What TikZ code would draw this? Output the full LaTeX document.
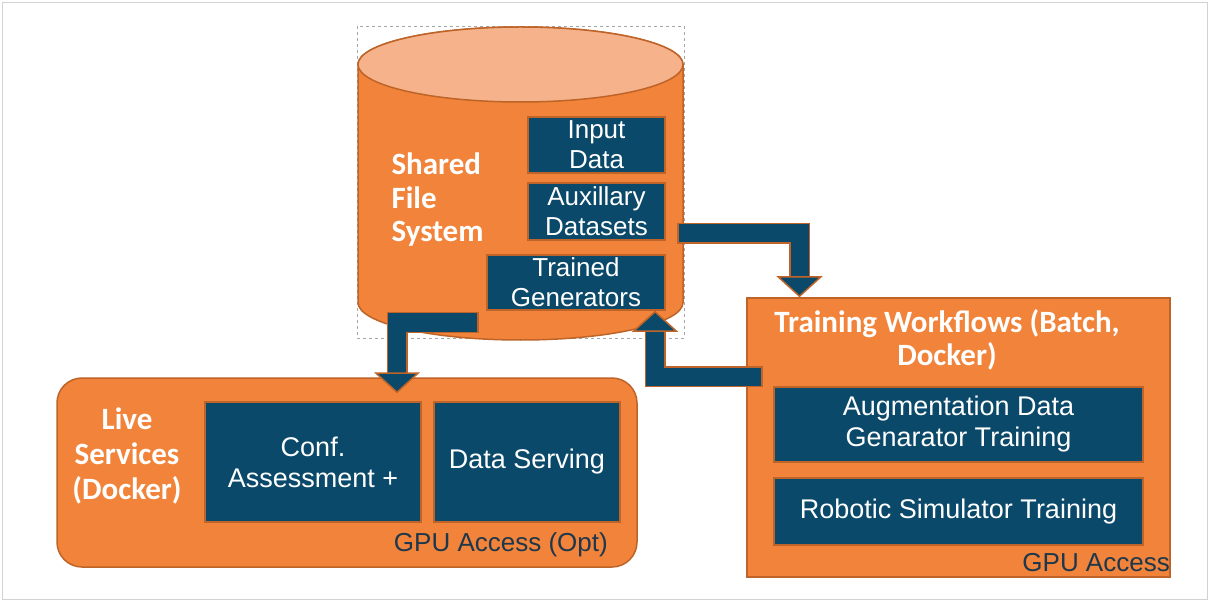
\documentclass[tikz,border=0pt]{standalone}
\usepackage{fontspec}
\setmainfont{Liberation Sans}
\newfontfamily\carlito{Carlito}
\usepackage{tikz}
\usetikzlibrary{arrows.meta}

\definecolor{fsorange}{RGB}{241,132,58}
\definecolor{fstop}{RGB}{246,178,138}
\definecolor{boxedge}{RGB}{190,100,40}
\definecolor{navy}{RGB}{10,73,106}
\definecolor{gputext}{RGB}{30,55,75}

\begin{document}
\begin{tikzpicture}[x=1pt, y=-1pt,
      darkbox/.style={draw=boxedge, line width=1.5pt, fill=navy, text=white, align=center, inner sep=0pt, font=\fontsize{27}{31}\selectfont},
      smallbox/.style={darkbox, font=\fontsize{26}{30}\selectfont},
      panel/.style={draw=boxedge, line width=1.5pt, fill=fsorange, inner sep=0pt},
      head/.style={text=white, align=center, font=\carlito\bfseries\fontsize{31}{34}\selectfont},
      gpu/.style={text=gputext, inner sep=0pt, font=\fontsize{26}{30}\selectfont},
      flow/.style={draw=navy, line width=18pt,
        -{Triangle[width=46pt, length=21pt, line width=1.5pt, color=boxedge, fill=navy]},
        preaction={draw=boxedge, arrows=-, line width=21pt, shorten >=20pt, shorten <=-1.5pt}}
    ]
    \useasboundingbox (0,0) rectangle (1209,601);
    \draw[gray!35] (2,2) rectangle (1207,599);

    % live services and training panels
    \node[panel, rounded corners=25pt, minimum width=580pt, minimum height=189pt] (live) at (347,472.5) {};
    \node[panel, minimum width=423pt, minimum height=279pt] (train) at (958.5,437.5) {};

    % shared file system (cylinder)
    \draw[gray!70, dashed] (357,26) rectangle (684,338);
    \draw[panel] (358,64.5) -- (358,302.5)
      arc[start angle=180, end angle=360, x radius=162.5pt, y radius=37.5pt]
      -- (683,64.5)
      arc[start angle=0, end angle=180, x radius=162.5pt, y radius=37.5pt] -- cycle;
    \draw[draw=boxedge, line width=1.5pt, fill=fstop] (520.5,64.5) ellipse[x radius=162.5pt, y radius=37.5pt];
    \node[head, align=left, anchor=west, font=\carlito\bfseries\fontsize{31}{33.5}\selectfont] (fs) at (388,200) {Shared\\File\\System};
    \node[smallbox, minimum width=137pt, minimum height=56pt] (input) at (596.5,145) {Input\\Data};
    \node[smallbox, minimum width=137pt, minimum height=57pt] (aux) at (596.5,211.5) {Auxillary\\Datasets};
    \node[smallbox, minimum width=178pt, minimum height=55pt] (gen) at (576,282.5) {Trained\\Generators};

    % live services content
    \node[head, font=\carlito\bfseries\fontsize{31}{35}\selectfont] (livelbl) at (127,456) {Live\\Services\\(Docker)};
    \node[darkbox, minimum width=216pt, minimum height=120pt] (conf) at (313,462) {Conf.\\Assessment +};
    \node[darkbox, minimum width=186pt, minimum height=120pt] (serve) at (527,462) {Data Serving};
    \node[gpu, anchor=east] (gpuopt) at (608,545) {GPU Access (Opt)};

    % training content
    \node[head, font=\carlito\bfseries\fontsize{31}{33}\selectfont] (trainlbl) at (947,340) {Training Workflows (Batch,\\Docker)};
    \node[darkbox, minimum width=369pt, minimum height=75pt] (aug) at (958.5,424.5) {Augmentation Data\\Genarator Training};
    \node[darkbox, minimum width=369pt, minimum height=67pt] (robo) at (958.5,511.5) {Robotic Simulator Training};
    \node[gpu, anchor=east] (gpu) at (1170,563) {GPU Access};

    % flows
    \draw[flow] ([xshift=13pt, yshift=-22pt]aux.east) -| ([xshift=-159pt]train.north);
    \draw[flow] ([xshift=15pt, yshift=61pt]train.west) -| ([xshift=79pt]gen.south);
    \draw[flow] ([xshift=-9pt, yshift=-40pt]gen.west) -| ([xshift=84pt, yshift=8pt]conf.north);
  \end{tikzpicture}
\end{document}
